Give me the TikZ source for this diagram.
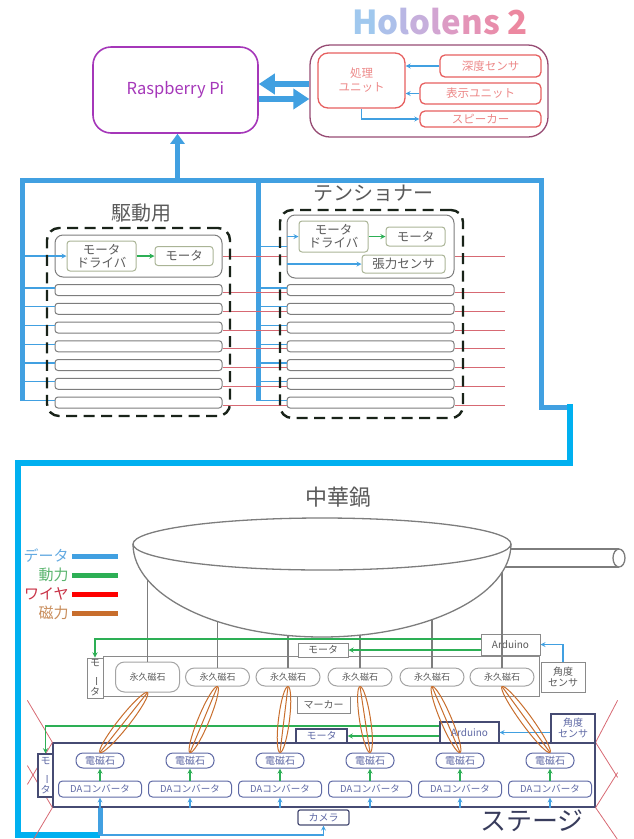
\documentclass[tikz,border=0pt]{standalone}
\usepackage{fontspec}
\setmainfont{Noto Sans CJK JP}
\usepackage{graphicx}
\usetikzlibrary{calc, arrows.meta, shapes.geometric}

\definecolor{dataBlue}{RGB}{65,160,225}
\definecolor{linkCyan}{RGB}{0,176,240}
\definecolor{powerGreen}{RGB}{45,175,85}
\definecolor{wireRed}{RGB}{215,105,115}
\definecolor{magBrown}{RGB}{200,110,45}
\definecolor{piPurple}{RGB}{165,55,185}
\definecolor{holoPlum}{RGB}{150,75,115}
\definecolor{holoRed}{RGB}{230,95,95}
\definecolor{modGray}{RGB}{125,125,125}
\definecolor{drvGray}{RGB}{170,180,150}
\definecolor{stageNavy}{RGB}{70,75,115}
\definecolor{emBlue}{RGB}{95,105,165}
\definecolor{textGray}{RGB}{90,90,90}
\definecolor{groupBlack}{RGB}{25,35,25}

\begin{document}
\begin{tikzpicture}[x=1pt, y=-1pt, >=stealth, thick,
    pibox/.style={draw=piPurple, line width=1.6pt, rounded corners=18pt,
        text=piPurple, font=\fontsize{16.5}{18}\selectfont},
    holobox/.style={draw=holoPlum, line width=1.3pt, rounded corners=20pt},
    holopart/.style={draw=holoRed, line width=1.3pt, rounded corners=5pt,
        text=holoRed!75, inner sep=0pt, align=center,
        font=\fontsize{11.5}{14}\selectfont},
    group/.style={draw=groupBlack, line width=2.4pt,
        dash pattern=on 11pt off 6.5pt, rounded corners=12pt},
    module/.style={draw=modGray, line width=1pt, rounded corners=8pt},
    part/.style={draw=drvGray, line width=1pt, rounded corners=3pt,
        text=textGray, inner sep=0pt, align=center,
        font=\fontsize{12.5}{13}\selectfont},
    slot/.style={draw=modGray, line width=1pt, rounded corners=3pt,
        minimum width=167pt, minimum height=11pt, inner sep=0pt},
    title/.style={text=textGray, font=\fontsize{20}{22}\selectfont},
    bus/.style={draw=dataBlue, line width=5pt},
    link/.style={draw=linkCyan, line width=6.5pt},
    data/.style={draw=dataBlue, line width=1.2pt},
    wire/.style={draw=wireRed, line width=1pt},
    power/.style={draw=powerGreen, line width=1.3pt},
    bigarrow/.style={draw=dataBlue, line width=6pt,
        -{Triangle[length=16pt, width=20pt]}},
    pan/.style={draw=modGray, line width=1.3pt},
    strut/.style={draw=modGray, line width=1.3pt},
    rig/.style={draw=modGray!90, line width=1pt, fill=white, inner sep=0pt,
        text=textGray, align=center, font=\fontsize{10}{11}\selectfont},
    magnet/.style={draw=modGray!70, line width=1pt, rounded corners=9pt,
        fill=white, inner sep=0pt, text=textGray,
        font=\fontsize{9}{10}\selectfont},
    stagebox/.style={draw=stageNavy, line width=1.2pt, fill=white,
        inner sep=0pt, text=emBlue, align=center,
        font=\fontsize{10}{11}\selectfont},
    coil/.style={draw=emBlue, line width=1pt, rounded corners=7pt,
        text=emBlue, inner sep=0pt, minimum width=48pt, minimum height=15pt,
        font=\fontsize{10}{11}\selectfont},
    dac/.style={draw=emBlue, line width=1pt, rounded corners=4pt,
        text=emBlue, inner sep=0pt, minimum width=83pt, minimum height=16pt,
        font=\fontsize{9.5}{10}\selectfont},
    field/.style={draw=magBrown, line width=1pt},
    cable/.style={draw=wireRed, line width=0.8pt}]

    \useasboundingbox (0,0) rectangle (633,839);

    % Parameters
    \def\rimX{322}
    \def\rimY{544}
    \def\rimR{189}
    \def\bowlD{93}

    % Raspberry Pi and HoloLens
    \node[pibox, minimum width=165pt, minimum height=86pt] (rpi) at (175.5,90) {Raspberry Pi};
    \node[holobox, minimum width=238pt, minimum height=92pt] (holo) at (429,91) {};
    \node[font=\fontsize{33}{35}\selectfont\bfseries] (holoTitle) at (440,22)
        {\color[RGB]{160,200,238}H\color[RGB]{172,192,234}o\color[RGB]{185,183,228}l%
         \color[RGB]{198,175,220}o\color[RGB]{210,165,210}l\color[RGB]{220,155,196}e%
         \color[RGB]{228,148,183}n\color[RGB]{232,142,172}s \color[RGB]{236,136,160}2};
    \node[holopart, minimum width=87pt, minimum height=55pt, rounded corners=10pt] (proc) at (361.5,80.5) {処理\\ユニット};
    \node[holopart, minimum width=101pt, minimum height=22pt] (depth) at (490.5,66) {深度センサ};
    \node[holopart, minimum width=121pt, minimum height=21pt] (disp) at (480.5,93.5) {表示ユニット};
    \node[holopart, minimum width=121pt, minimum height=16pt] (spk) at (480.5,119) {スピーカー};

    \draw[data, ->] (depth.west) -- (depth.west -| proc.east);
    \draw[data, ->] (disp.west) -- (disp.west -| proc.east);
    \draw[data, ->] (proc.south) |- (spk.west);

    % Two-way link
    \coordinate (toPi) at ([yshift=7pt]holo.west);
    \coordinate (toHolo) at ([yshift=-9pt]rpi.east);
    \draw[bigarrow] (toPi) -- (toPi -| rpi.east);
    \draw[bigarrow] (toHolo) -- (toHolo -| holo.west);

    % Data bus
    \coordinate (busL) at (22,180);
    \coordinate (busM) at (258,180);
    \coordinate (busR) at (541,180);
    \coordinate (busTurn) at (568,407);
    \draw[bus] (22,401) -- (busL) -- (busR) |- (busTurn);
    \draw[bus] (busM) -- (258,401);
    \draw[bus, -{Triangle[length=10pt, width=14pt]}] ([xshift=2pt]rpi.south |- busL) -- ([xshift=2pt]rpi.south);

    % Drive units
    \node[title] (driveTitle) at (141,213) {駆動用};
    \node[module, minimum width=167pt, minimum height=42pt] (modL) at (138.5,256) {};
    \node[part, minimum width=69pt, minimum height=30pt] (drvL) at (101.5,256) {モータ\\ドライバ};
    \node[part, minimum width=58pt, minimum height=19pt] (motL) at (184,256) {モータ};
    \draw[power, ->] (drvL) -- (motL);
    \draw[data, ->] (drvL.west -| busL) -- (drvL.west);

    % Tensioner units
    \node[title] (tensTitle) at (373,193) {テンショナー};
    \node[module, minimum width=167pt, minimum height=63pt] (modR) at (370.5,246.5) {};
    \node[part, minimum width=69pt, minimum height=31pt] (drvR) at (333.5,236.5) {モータ\\ドライバ};
    \node[part, minimum width=59pt, minimum height=19pt] (motR) at (415.5,236.5) {モータ};
    \node[part, minimum width=83pt, minimum height=18pt] (sensR) at (403.5,264) {張力センサ};
    \draw[power, ->] (drvR) -- (motR);
    \draw[data] (modR.west -| busM) -- (modR.west);
    \draw[data, ->] (drvR.west -| modR.west) -- (drvR.west);
    \draw[data, ->] (sensR.west -| modR.west) -- (sensR.west);

    % Remaining slots
    \foreach \i in {1,...,7} {
        \node[slot] (slotL\i) at (138.5, {271.25+18.75*\i}) {};
        \node[slot] (slotR\i) at (370.5, {271.25+18.75*\i}) {};
    }

    % Wires and data lines
    \coordinate (wireEnd) at (505,256);
    \draw[wire] (modL.east) -- (modL.east -| modR.west);
    \draw[wire] (modL.east -| modR.east) -- (wireEnd);
    \foreach \i in {1,...,7} {
        \path ([yshift=-2.5pt]slotL\i.east) coordinate (wL\i)
              ([yshift=2pt]slotL\i.west) coordinate (dL\i)
              ([yshift=2pt]slotR\i.west) coordinate (dR\i);
        \draw[wire] (wL\i) -- (wL\i -| slotR\i.west);
        \draw[wire] (wL\i -| slotR\i.east) -- (wL\i -| wireEnd);
        \draw[data] (dL\i -| busL) -- (dL\i);
        \draw[data] (dR\i -| busM) -- (dR\i);
    }

    % Dashed groups
    \node[group, minimum width=183pt, minimum height=188pt] (driveGrp) at (138.5,322) {};
    \node[group, minimum width=183pt, minimum height=208pt] (tensGrp) at (371.5,314) {};

    % Link down to the stage
    \coordinate (linkTop) at (570,404);
    \coordinate (linkMid) at (570,463);
    \coordinate (linkLeft) at (18,463);
    \coordinate (linkBottom) at (18,835);
    \coordinate (feed) at (100,835);
    \draw[link] (linkTop) -- (linkMid) -- (linkLeft) -- (linkBottom) -- (feed);

    % Legend
    \foreach \txt/\tc/\bc [count=\k] in {データ/{rgb,255:red,100;green,170;blue,225}/dataBlue,
            動力/{rgb,255:red,90;green,180;blue,110}/powerGreen,
            ワイヤ/{rgb,255:red,200;green,50;blue,70}/red,
            磁力/{rgb,255:red,200;green,140;blue,90}/magBrown} {
        \node[anchor=east, text=\tc, font=\fontsize{15}{16}\selectfont, inner sep=1pt] (leg\k) at (70, {537+19*\k}) {\txt};
        \draw[line width=5pt, draw=\bc] (leg\k.east) ++(2,0) -- ++(46,0);
    }

    % Wok
    \coordinate (rim) at (\rimX,\rimY);
    \node[title, font=\fontsize{22}{24}\selectfont] (panTitle) at (338,497) {中華鍋};
    \draw[pan] (rim) ellipse[x radius=\rimR, y radius=26];
    \draw[pan] ($(rim)+(-\rimR,0)$) arc[start angle=180, end angle=0, x radius=\rimR, y radius=\bowlD];
    \coordinate (handleEnd) at (619,558);
    \draw[pan] (510,549) -- (619,549) (505,567) -- (619,567);
    \draw[pan, fill=white] (handleEnd) ellipse[x radius=6, y radius=9];

    % Magnet plate
    \node[rig, minimum width=436pt, minimum height=40pt] (plate) at (321,676) {};
    \node[rig, minimum width=16pt, minimum height=40pt, font=\fontsize{10}{10}\selectfont] (sideMotU) at (95,678) {モ\\\rotatebox{-90}{ー}\\タ};
    \foreach \x/\h [count=\i] in {147.5/30, 217.5/18, 288/18, 360/18, 432/18, 502/18} {
        \node[magnet, minimum width=64pt, minimum height=\h pt] (pm\i) at (\x,677) {永久磁石};
    }
    \node[rig, minimum width=59pt, minimum height=21pt] (ardU) at (510.5,644.5) {Arduino};
    \node[rig, minimum width=50pt, minimum height=14pt] (motU) at (323,650) {モータ};
    \node[rig, minimum width=44pt, minimum height=30pt] (angU) at (563,677) {角度\\センサ};
    \node[rig, minimum width=53pt, minimum height=17pt] (marker) at (323.5,704.5) {マーカー};

    % Struts from the bowl
    \foreach \x [count=\i] in {147.5, 217.5, 288, 360, 432, 502} {
        \pgfmathsetmacro\yb{\rimY+\bowlD*sqrt(1-((\x-\rimX)/\rimR)^2)}
        \draw[strut] (pm\i.north) -- (\x,\yb);
    }

    \draw[power, ->] ([yshift=5.5pt]ardU.west) -| (sideMotU.north);
    \draw[power, ->] (ardU.west |- motU.east) -- (motU.east);
    \draw[data, ->] (angU.north) |- (ardU.east);

    % Stage
    \node[stagebox, minimum width=542pt, minimum height=64pt] (stage) at (324,775) {};
    \draw[cable] (stage.north west) -- ++(-25,-42);
    \draw[cable] (stage.north west) -- ++(-25,42);
    \draw[cable] (stage.south west) -- ++(-25,-42);
    \draw[cable] (stage.south west) -- ++(-19,32);
    \draw[cable] (stage.north east) -- ++(22,-42);
    \draw[cable] (stage.north east) -- ++(22,35);
    \draw[cable] (stage.south east) -- ++(22,-35);
    \draw[cable] (stage.south east) -- ++(22,32);
    \node[stagebox, minimum width=15pt, minimum height=43pt, font=\fontsize{10}{10}\selectfont] (sideMotS) at (45.5,775.5) {モ\\\rotatebox{-90}{ー}\\タ};
    \draw[bus] (feed) -- (feed |- stage.south);

    \foreach \x [count=\i] in {100, 190, 280, 370, 460, 550} {
        \node[coil] (em\i) at (\x,760.5) {電磁石};
        \node[dac] (da\i) at (\x,789) {DAコンバータ};
        \draw[power, ->] (da\i.north) -- (em\i.south);
        \draw[data, ->] (da\i.south |- stage.south) -- (da\i.south);
    }

    \node[stagebox, minimum width=59pt, minimum height=21pt] (ardS) at (469.5,732.5) {Arduino};
    \node[stagebox, minimum width=51pt, minimum height=14pt] (motS) at (321.5,736) {モータ};
    \node[stagebox, minimum width=44pt, minimum height=29pt] (angS) at (573,728.5) {角度\\センサ};
    \node[stagebox, rounded corners=2pt, minimum width=51pt, minimum height=15pt] (camera) at (323.5,817.5) {カメラ};
    \node[text=stageNavy!80!black, font=\fontsize{26}{28}\selectfont] (stageTitle) at (532,821) {ステージ};

    \draw[power, ->] ([yshift=6.5pt]ardS.west) -| (sideMotS.north);
    \draw[power, ->] (ardS.west |- motS.east) -- (motS.east);
    \draw[data, ->] (ardS.east -| angS.west) -- (ardS.east);
    \draw[data, ->] (feed) -| (camera.south);

    % Magnetic coupling
    \foreach \i in {1,...,6} {
        \path let \p1=(pm\i.south), \p2=(em\i.north),
                  \n1={atan2(\y2-\y1,\x2-\x1)}, \n2={veclen(\x2-\x1,\y2-\y1)}
              in node[field, ellipse, minimum width=\n2, minimum height=11pt,
                      inner sep=0pt, rotate=\n1] (fld\i) at ($(\p1)!0.5!(\p2)$) {};
        \draw[field] (pm\i.south) -- (em\i.north);
    }

\end{tikzpicture}
\end{document}
